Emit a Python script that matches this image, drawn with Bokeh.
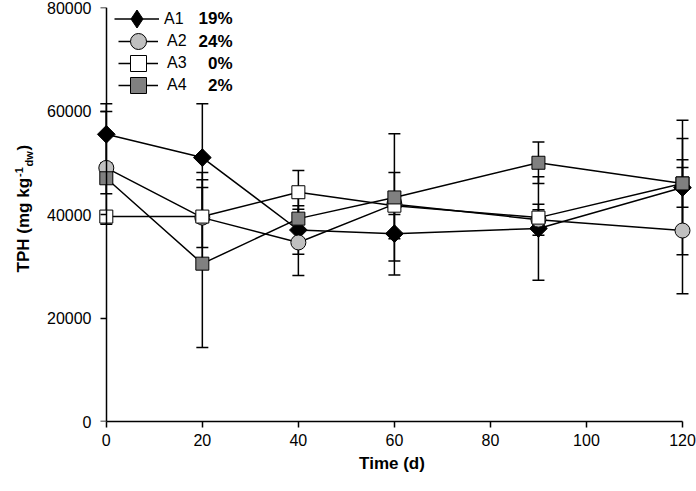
import math
from bokeh.plotting import figure
from bokeh.layouts import row
from bokeh.models import (ColumnDataSource, Whisker, TeeHead, Legend, LegendItem,
                          Label, Range1d, FixedTicker, NumeralTickFormatter, LinearAxis)
from bokeh.embed import file_html
from bokeh.resources import INLINE

# ---- data ----
days = [0, 20, 40, 60, 90, 120]
a1 = [55500, 51000, 37000, 36300, 37300, 45200]
a1_err = [5900, 10400, 4700, 8000, 10000, 13000]
a2 = [49000, 39400, 34600, 42000, 39000, 36900]
a2_err = [10900, 5800, 6400, 2000, 3000, 12200]
a3 = [39600, 39600, 44300, 41700, 39400, 46000]
a3_err = [1000, 8500, 4200, 6400, 1500, 8700]
a4 = [47000, 30500, 39200, 43300, 50000, 46000]
a4_err = [3000, 16200, 4000, 12300, 4000, 4600]

series_names = ["A1", "A2", "A3", "A4"]
percents = ["19%", "24%", "0%", "2%"]
x_ticks = [0, 20, 40, 60, 80, 100, 120]
y_ticks = [0, 20000, 40000, 60000, 80000]

FONT = "Liberation Sans"
W, H = 696, 491
YW = 36  # strip that carries the rotated y title
B_TOP, B_BOTTOM = 7, 70

p = figure(width=W - YW, height=H, output_backend="svg", toolbar_location=None,
           x_range=Range1d(-3.5, 122.5), y_range=Range1d(0, 80000),
           min_border_left=53, min_border_right=2, min_border_top=B_TOP,
           min_border_bottom=B_BOTTOM)
p.outline_line_color = None
p.grid.visible = False

# x axis
xa = p.xaxis[0]
xa.ticker = FixedTicker(ticks=x_ticks)
xa.bounds = (0, 120)
# default left axis: tick labels only (sits at the frame edge)
ya = p.yaxis[0]
ya.ticker = FixedTicker(ticks=y_ticks)
ya.formatter = NumeralTickFormatter(format="0")
ya.axis_line_color = None
ya.major_tick_line_color = None
ya.major_tick_out = 0
ya.major_tick_in = 0
ya.minor_tick_line_color = None
ya.major_label_standoff = -2
# axis line and ticks drawn at x = 0
y_line = LinearAxis(ticker=FixedTicker(ticks=y_ticks), fixed_location=0,
                    major_label_overrides={t: "" for t in y_ticks},
                    major_label_text_font_size="0px", major_label_standoff=0)
p.add_layout(y_line, "left")

for ax in (xa, y_line):
    ax.axis_line_color = "black"
    ax.axis_line_width = 1.5
    ax.major_tick_line_color = "black"
    ax.major_tick_line_width = 1.5
    ax.major_tick_out = 6
    ax.major_tick_in = 0
    ax.minor_tick_line_color = None
for ax in (xa, ya):
    ax.major_label_text_font = FONT
    ax.major_label_text_font_size = "16px"
    ax.major_label_text_color = "black"
xa.major_label_standoff = 6
xa.axis_label = "Time (d)"
xa.axis_label_text_font = FONT
xa.axis_label_text_font_style = "bold"
xa.axis_label_text_font_size = "17px"
xa.axis_label_text_color = "black"
xa.axis_label_standoff = 5

styles = [
    dict(marker="square", angle=math.pi / 4, size=12.5, fill_color="black"),
    dict(marker="circle", angle=0, size=15, fill_color="#c0c0c0"),
    dict(marker="square", angle=0, size=13, fill_color="white"),
    dict(marker="square", angle=0, size=13, fill_color="#808080"),
]
values = [a1, a2, a3, a4]
errors = [a1_err, a2_err, a3_err, a4_err]

sources = []
for vals, errs in zip(values, errors):
    sources.append(ColumnDataSource(dict(
        x=days, y=vals,
        upper=[v + e for v, e in zip(vals, errs)],
        lower=[v - e for v, e in zip(vals, errs)])))

for src in sources:
    p.add_layout(Whisker(base="x", upper="upper", lower="lower", source=src, level="underlay",
                         line_color="black", line_width=1.5,
                         upper_head=TeeHead(size=12, line_color="black", line_width=1.5),
                         lower_head=TeeHead(size=12, line_color="black", line_width=1.5)))

lines = [p.line("x", "y", source=src, line_color="black", line_width=1.5) for src in sources]
# hidden diamond under the A1 markers, used as the legend glyph (legend ignores angles)
leg_diamond = p.scatter("x", "y", source=sources[0], marker="diamond", size=17,
                        fill_color="black", line_color="black")
marks = [p.scatter("x", "y", source=src, marker=st["marker"], angle=st["angle"],
                   size=st["size"], fill_color=st["fill_color"], line_color="black", line_width=1)
         for src, st in zip(sources, styles)]
legend_marks = [leg_diamond, marks[1], marks[2], marks[3]]

# one legend per entry so the marker box can be large while rows stay close
frame_left_px = YW + 53
legend_cfg = [  # (glyph box, line start px, standoff, bottom from frame bottom)
    (45, 114, 5, 380),
    (40, 118, 9, 360),
    (40, 118, 9, 338),
    (40, 118, 9, 316),
]
for name, ln, mk, (gb, x0, so, vy) in zip(series_names, lines, legend_marks, legend_cfg):
    p.add_layout(Legend(items=[LegendItem(label=name, renderers=[ln, mk])],
                        location=(x0 - frame_left_px, vy), padding=0, margin=0,
                        glyph_width=gb, glyph_height=gb, label_standoff=so,
                        label_text_font=FONT, label_text_font_size="16px",
                        label_text_color="black", border_line_alpha=0,
                        background_fill_alpha=0))

pct_y = [403, 380, 358, 336]
for txt, yy in zip(percents, pct_y):
    p.add_layout(Label(x=232 - frame_left_px, y=yy, x_units="screen", y_units="screen",
                       text=txt, text_align="right", text_baseline="middle", text_font=FONT,
                       text_font_style="bold", text_font_size="17px", text_color="black"))

# strip with the rotated y title; its frame is aligned with the main frame by the row,
# so its y range is chosen to make data y = (page height - page y)
yfig = figure(width=YW, height=H, output_backend="svg", toolbar_location=None,
              x_range=Range1d(0, YW), y_range=Range1d(B_BOTTOM, H - B_TOP),
              x_axis_location=None, y_axis_location=None,
              min_border_left=0, min_border_right=0, min_border_top=B_TOP,
              min_border_bottom=B_BOTTOM)
yfig.grid.visible = False
yfig.outline_line_color = None
ylab = [
    ("TPH (mg kg", 23, 266.3, "17px"),
    ("-1", 18, 319.4, "11px"),
    ("dw", 28.5, 332.6, "11px"),
    (")", 23, 343.8, "17px"),
]
for txt, xx, yy, fs in ylab:
    yfig.add_layout(Label(x=xx, y=yy, text=txt, angle=math.pi / 2,
                          text_align="center", text_baseline="middle",
                          text_font=FONT, text_font_style="bold", text_font_size=fs,
                          text_color="black"))

layout = row(yfig, p, spacing=0)
open("out.html", "w").write(file_html(layout, INLINE))
